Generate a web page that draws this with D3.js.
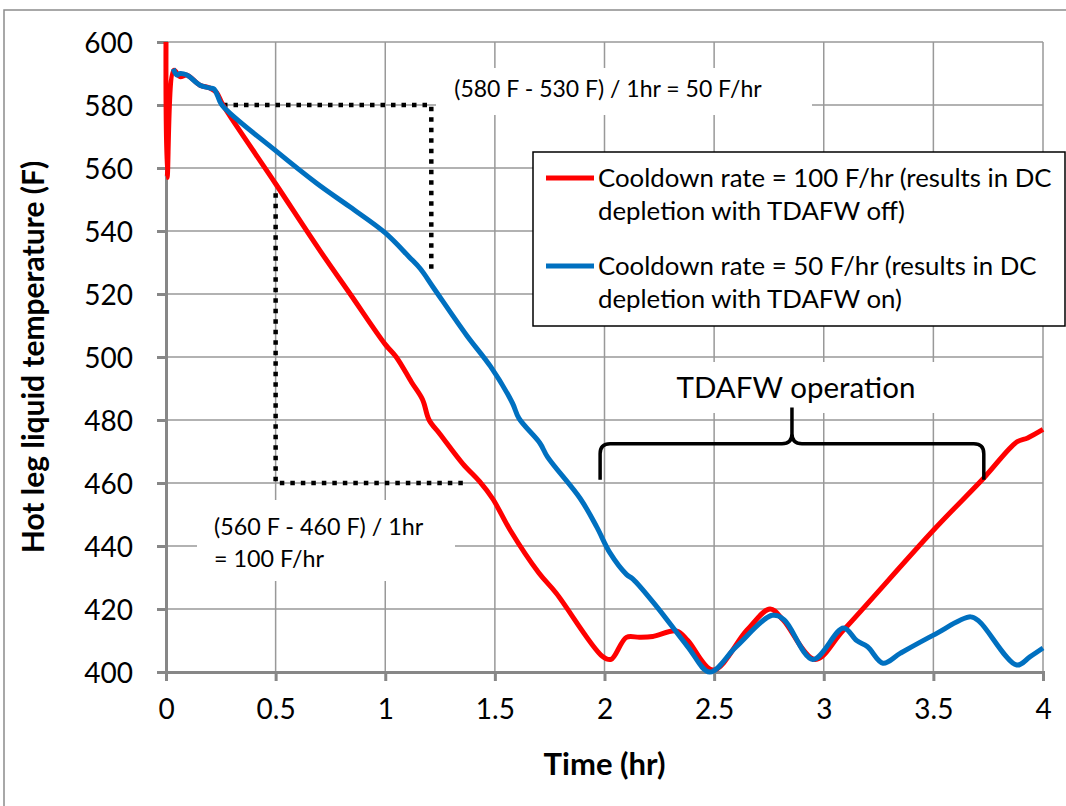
<!DOCTYPE html>
<html>
<head>
<meta charset="utf-8">
<script src="https://cdn.jsdelivr.net/npm/d3@7"></script>
<style>
  body { margin: 0; background: #fff; }
  svg { display: block; }
</style>
</head>
<body>
<div></div>
<script>
const width = 1066, height = 806
const svg = d3.select("div").append("svg")
    .attr("xmlns", "http://www.w3.org/2000/svg")
    .attr("width", width)
    .attr("height", height)

// data (time in hr, temperature in F)
const redSeries = [[0,600],[0.005,557],[0.036,591],[0.064,589],[0.095,589.5],[0.155,586.3],[0.2,585.4],[0.23,584],[0.26,580],
	[0.5,555],[0.70,534],[0.84,520],[1.0,504],[1.05,500],[1.12,492],[1.17,486.5],[1.2,480],[1.25,475.5],[1.355,466],[1.43,460.5],
	[1.49,455],[1.57,445],[1.70,431.5],[1.78,425],[1.99,405],[2.03,404],[2.1,411],[2.16,411],[2.22,411.3],[2.33,413],[2.38,410],
	[2.495,400.6],[2.65,413.3],[2.755,420],[2.815,416.5],[2.96,404],[3.09,413.3],[3.5,445],[3.73,461.6],[3.88,473],[3.93,474.3],[4.0,477]]
const blueSeries = [[0.033,591.5],[0.05,589.5],[0.064,590],[0.095,589.5],[0.155,586.3],[0.2,585.4],[0.22,585],[0.235,583],[0.255,580],
	[0.5,565.5],[0.69,555],[0.84,547.6],[1.0,539.4],[1.11,531.7],[1.16,528],[1.22,522],[1.37,507],[1.48,497],[1.58,485.4],[1.61,480.5],
	[1.705,472.7],[1.74,468.3],[1.89,455],[1.965,446],[2.025,437.8],[2.1,431],[2.13,429.5],[2.24,420.6],[2.38,408],[2.48,400],[2.6,408],
	[2.765,418],[2.82,416.5],[2.95,404],[3.09,414],[3.15,410],[3.2,408],[3.27,402.8],[3.35,406],[3.5,411.7],[3.67,417.5],[3.71,416],
	[3.88,402.2],[3.94,404.8],[4.0,407.6]]
const xTicks = [0, 0.5, 1, 1.5, 2, 2.5, 3, 3.5, 4]
const yTicks = [400, 420, 440, 460, 480, 500, 520, 540, 560, 580, 600]
const legendLabels = [
	["Cooldown rate = 100 F/hr (results in DC", "depletion with TDAFW off)"],
	["Cooldown rate = 50 F/hr (results in DC", "depletion with TDAFW on)"]
]
const rate50Box = [[0.26,580],[1.21,580],[1.21,527]]
const rate100Box = [[0.5,552],[0.5,460],[1.37,460]]
const braceSpan = [1.98, 3.73]
const braceLevels = [461, 472.5, 484]

// settings
const font = "Lato, 'Open Sans', sans-serif"
const gridColor = "#999"
const axisColor = "#878787"
const red = "#FF0000"
const blue = "#0070C0"

const x = d3.scaleLinear().domain([0, 4]).range([166, 1043])
const y = d3.scaleLinear().domain([400, 600]).range([672, 42])

// outer chart frame
svg.append("rect")
	.attr("x", 4).attr("y", 10).attr("width", 1100).attr("height", 900)
	.attr("fill", "#fff").attr("stroke", "#8c8c8c").attr("stroke-width", 1.5)

// grid
svg.selectAll().data(yTicks).enter().append("line")
	.attr("x1", x(0)).attr("x2", x(4))
	.attr("y1", d => y(d)).attr("y2", d => y(d))
	.attr("stroke", gridColor).attr("stroke-width", 1.5)
svg.selectAll().data(xTicks).enter().append("line")
	.attr("x1", d => x(d)).attr("x2", d => x(d))
	.attr("y1", y(400)).attr("y2", y(600))
	.attr("stroke", gridColor).attr("stroke-width", 1.5)

// axes
const yAxis = svg.append("g")
	.attr("transform", `translate(${x(0)},0)`)
	.call(d3.axisLeft(y).tickValues(yTicks).tickSize(9).tickPadding(24).tickFormat(d3.format("d")))
const xAxis = svg.append("g")
	.attr("transform", `translate(0,${y(400)})`)
	.call(d3.axisBottom(x).tickValues(xTicks).tickSize(9).tickPadding(18).tickFormat(d => d))
for (const g of [yAxis, xAxis]) {
	g.select(".domain").attr("stroke", axisColor).attr("stroke-width", 3)
	g.selectAll(".tick line").attr("stroke", axisColor).attr("stroke-width", 3)
	g.selectAll(".tick text").attr("font-family", font).attr("font-size", 28).attr("fill", "#000")
}
yAxis.selectAll(".tick text").attr("dy", "0.36em")

// annotation backgrounds (hide grid behind the texts)
svg.append("rect").attr("x", 436).attr("y", 68).attr("width", 376).attr("height", 47).attr("fill", "#fff")
svg.append("rect").attr("x", 197).attr("y", 500).attr("width", 258).attr("height", 81).attr("fill", "#fff")
svg.append("rect").attr("x", 650).attr("y", 362).attr("width", 285).attr("height", 51).attr("fill", "#fff")

// dotted rate boxes
const line = d3.line().x(d => x(d[0])).y(d => y(d[1]))
for (const pts of [rate50Box, rate100Box]) {
	svg.append("path")
		.attr("d", line(pts))
		.attr("fill", "none")
		.attr("stroke", "#000")
		.attr("stroke-width", 4.5)
		.attr("stroke-dasharray", "4.5,6")
}

// series
const curve = d3.line().x(d => x(d[0])).y(d => y(d[1])).curve(d3.curveCatmullRom.alpha(0.5))
svg.append("path").attr("d", curve(redSeries))
	.attr("fill", "none").attr("stroke", red).attr("stroke-width", 5).attr("stroke-linejoin", "round")
svg.append("path").attr("d", curve(blueSeries))
	.attr("fill", "none").attr("stroke", blue).attr("stroke-width", 5).attr("stroke-linejoin", "round")

// brace
const bx0 = x(braceSpan[0]), bx1 = x(braceSpan[1]), bm = (bx0 + bx1) / 2
const yb = y(braceLevels[0]), yh = y(braceLevels[1]), yt = y(braceLevels[2])
const r = 10
svg.append("path")
	.attr("d", `M${bx0},${yb} L${bx0},${yh+r} Q${bx0},${yh} ${bx0+r},${yh} L${bm-r},${yh} Q${bm},${yh} ${bm},${yh-r} L${bm},${yt}
		M${bm},${yh-r} Q${bm},${yh} ${bm+r},${yh} L${bx1-r},${yh} Q${bx1},${yh} ${bx1},${yh+r} L${bx1},${yb}`)
	.attr("fill", "none").attr("stroke", "#000").attr("stroke-width", 3.5)

// annotation texts
const txt = (tx, ty, s, size, anchor) => svg.append("text")
	.attr("x", tx).attr("y", ty).attr("font-family", font).attr("font-size", size)
	.attr("text-anchor", anchor || "start").attr("fill", "#000").text(s)
txt(608, 97, "(580 F - 530 F) / 1hr = 50 F/hr", 23, "middle")
txt(214, 535, "(560 F - 460 F) / 1hr", 23.3)
txt(214, 567, "= 100 F/hr", 23.3)
txt(796, 398, "TDAFW operation", 29.5, "middle")

// legend
svg.append("rect").attr("x", 533).attr("y", 152).attr("width", 532).attr("height", 174)
	.attr("fill", "#fff").attr("stroke", "#000").attr("stroke-width", 1.5)
const legendColors = [red, blue]
legendLabels.forEach((lines, i) => {
	const ly = 178 + i * 88
	svg.append("line").attr("x1", 546).attr("x2", 594).attr("y1", ly).attr("y2", ly)
		.attr("stroke", legendColors[i]).attr("stroke-width", 5)
	lines.forEach((s, j) => txt(598, ly + 9 + j * 33, s, 25.8))
})

// axis titles
svg.append("text")
	.attr("x", x(2)).attr("y", 775)
	.attr("text-anchor", "middle").attr("font-family", font).attr("font-size", 31).attr("font-weight", "bold")
	.text("Time (hr)")
svg.append("text")
	.attr("transform", `translate(44,${(y(400)+y(600))/2}) rotate(-90)`)
	.attr("text-anchor", "middle").attr("font-family", font).attr("font-size", 30).attr("font-weight", "bold")
	.text("Hot leg liquid temperature (F)")
</script>
</body>
</html>
